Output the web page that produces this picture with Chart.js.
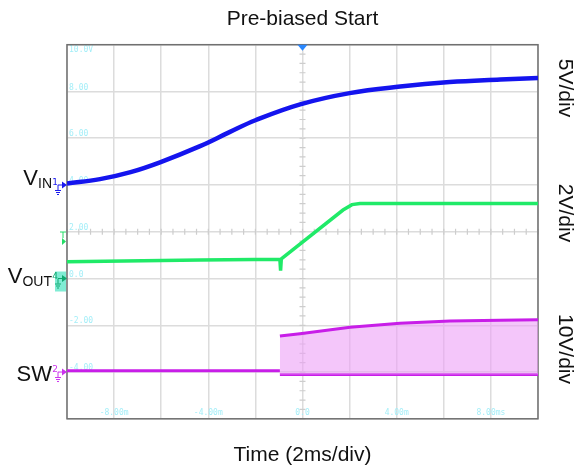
<!DOCTYPE html>
<html>
<head>
<meta charset="utf-8">
<script src="https://cdn.jsdelivr.net/npm/chart.js@4.4.1/dist/chart.umd.min.js"></script>
<style>
    html, body { margin: 0; padding: 0; background: #fff; }
</style>
</head>
<body>
<canvas id="scope" width="575" height="468"></canvas>
<script>
const FONT = "'Liberation Sans', Arial, sans-serif"

// screen grid: 2ms/div horizontally, 8 divisions vertically
const xTickValues = [-8, -4, 0, 4, 8]
const xTickLabels = ['-8.00m', '-4.00m', '0.0', '4.00m', '8.00ms']
const yTickValues = [10, 8, 6, 4, 2, 0, -2, -4]
const yTickLabels = ['10.0V', '8.00', '6.00', '4.00', '2.00', '0.0', '-2.00', '-4.00']

// VIN (ch1)
const vinTime = [-10, -8.6, -7.3, -6.05, -4.35, -3.1, -2.0, -0.1, 2.0, 4.15, 6.25, 8.4, 10]
const vinLevel = [4.06, 4.25, 4.55, 4.97, 5.66, 6.26, 6.77, 7.45, 7.93, 8.21, 8.40, 8.51, 8.58]

// VOUT (ch4)
const voutTime = [-10, -4.35, -0.96, -0.93, -0.90, 1.72, 2.10, 2.44, 10]
const voutLevel = [0.72, 0.79, 0.82, 0.34, 0.84, 2.93, 3.16, 3.21, 3.21]

// SW (ch2) before switching starts, then the high/low envelope
const swTime = [-10, -0.96]
const swLevel = [-3.95, -3.95]
const swHighTime = [-0.96, -0.11, 2.02, 4.14, 6.26, 8.39, 10]
const swHigh = [-2.46, -2.36, -2.08, -1.91, -1.82, -1.78, -1.76]
const swLowTime = [-0.96, 10]
const swLow = [-4.10, -4.10]

const pts = (xs, ys) => xs.map((x, i) => ({x: x, y: ys[i]}))

function trace(data, color, width, extra) {
    return Object.assign({
        data: data,
        borderColor: color,
        borderWidth: width,
        pointRadius: 0,
        tension: 0,
        fill: false,
    }, extra || {})
}

// little "n + ground + arrow" channel marker at the left of the screen
function groundMark(ctx, x, y, color, label) {
    ctx.save()
    ctx.fillStyle = color
    ctx.strokeStyle = color
    ctx.lineWidth = 1
    ctx.font = "9px 'DejaVu Sans'"
    ctx.textAlign = 'center'
    ctx.textBaseline = 'middle'
    ctx.fillText(label, x - 8, y - 2)
    ctx.beginPath()
    ctx.moveTo(x - 5, y); ctx.lineTo(x + 1, y)
    ctx.moveTo(x - 5, y); ctx.lineTo(x - 5, y + 5)
    ctx.moveTo(x - 8, y + 5.5); ctx.lineTo(x - 2, y + 5.5)
    ctx.moveTo(x - 7, y + 7.5); ctx.lineTo(x - 3, y + 7.5)
    ctx.moveTo(x - 6, y + 9.5); ctx.lineTo(x - 4, y + 9.5)
    ctx.stroke()
    ctx.beginPath()
    ctx.moveTo(x - 1, y - 3.5); ctx.lineTo(x + 4, y); ctx.lineTo(x - 1, y + 3.5)
    ctx.closePath()
    ctx.fill()
    ctx.restore()
}

const scopeDecor = {
    id: 'scopeDecor',
    beforeDatasetsDraw(chart) {
        const {ctx, chartArea: a, scales: {x, y}} = chart
        ctx.save()
        // minor ticks on the centre cross
        const cx = x.getPixelForValue(0)
        const cy = y.getPixelForValue(2)
        ctx.strokeStyle = '#cdcdcd'
        ctx.lineWidth = 1.2
        ctx.beginPath()
        for (let v = -6; v <= 10; v += 0.4) {
            const py = y.getPixelForValue(v)
            ctx.moveTo(cx - 3, py); ctx.lineTo(cx + 3, py)
        }
        for (let t = -10; t <= 10; t += 0.5) {
            const px = x.getPixelForValue(t)
            ctx.moveTo(px, cy - 3); ctx.lineTo(px, cy + 3)
        }
        ctx.stroke()

        // tick labels inside the screen
        ctx.fillStyle = '#a4eef8'
        ctx.font = "8px 'DejaVu Sans Mono'"
        ctx.textBaseline = 'middle'
        ctx.textAlign = 'left'
        yTickValues.forEach((v, i) => {
            const py = y.getPixelForValue(v)
            ctx.fillText(yTickLabels[i], a.left + 2, i === 0 ? py + 5 : py - 4)
        })
        ctx.textAlign = 'center'
        xTickValues.forEach((t, i) => {
            ctx.fillText(xTickLabels[i], x.getPixelForValue(t), a.bottom - 6)
        })

        // frame
        ctx.strokeStyle = '#707070'
        ctx.lineWidth = 1.5
        ctx.strokeRect(a.left, a.top, a.right - a.left, a.bottom - a.top)
        ctx.restore()
    },
    afterDraw(chart) {
        const {ctx, chartArea: a, scales: {x, y}} = chart
        ctx.save()

        // trigger position marker
        const cx = x.getPixelForValue(0)
        ctx.fillStyle = '#2a88ff'
        ctx.beginPath()
        ctx.moveTo(cx - 5, a.top); ctx.lineTo(cx + 5, a.top); ctx.lineTo(cx, a.top + 6)
        ctx.closePath()
        ctx.fill()

        // channel markers
        groundMark(ctx, a.left - 4, y.getPixelForValue(4), '#1a1aee', '1')
        ctx.fillStyle = '#80ecd4'
        ctx.fillRect(a.left - 12, y.getPixelForValue(0) - 7, 11, 20)
        groundMark(ctx, a.left - 4, y.getPixelForValue(0), '#10a870', '4')
        groundMark(ctx, a.left - 4, y.getPixelForValue(-4), '#cc33ee', '2')

        // trigger level
        ctx.fillStyle = '#22dd66'
        ctx.strokeStyle = '#22dd66'
        ctx.lineWidth = 1
        ctx.beginPath()
        ctx.moveTo(a.left - 7, 232); ctx.lineTo(a.left - 1, 232)
        ctx.moveTo(a.left - 4, 232); ctx.lineTo(a.left - 4, 238)
        ctx.stroke()
        ctx.beginPath()
        ctx.moveTo(a.left - 5, 238); ctx.lineTo(a.left - 1, 241.5); ctx.lineTo(a.left - 5, 245)
        ctx.closePath()
        ctx.fill()

        // channel names
        ctx.fillStyle = '#111'
        ctx.textBaseline = 'alphabetic'
        ctx.textAlign = 'left'
        const names = [['V', 'IN', 185], ['V', 'OUT', 283], ['SW', '', 380.5]]
        for (const [main, sub, base] of names) {
            ctx.font = '22px ' + FONT
            const w1 = ctx.measureText(main).width
            ctx.font = '14px ' + FONT
            const w2 = ctx.measureText(sub).width
            const x0 = 52 - w1 - w2
            ctx.font = '22px ' + FONT
            ctx.fillText(main, x0, base)
            ctx.font = '14px ' + FONT
            ctx.fillText(sub, x0 + w1, base + 3)
        }

        // volts per division, rotated
        ctx.font = '21px ' + FONT
        ctx.textAlign = 'center'
        ctx.textBaseline = 'middle'
        const scalesText = [['5V/div', 88], ['2V/div', 213], ['10V/div', 349]]
        for (const [txt, cyText] of scalesText) {
            ctx.save()
            ctx.translate(565, cyText)
            ctx.rotate(Math.PI / 2)
            ctx.fillText(txt, 0, 0)
            ctx.restore()
        }
        ctx.restore()
    }
}

const gridOpts = {
    color: '#dcdcdc',
    lineWidth: 1.5,
    drawTicks: false,
}

const scopeChart = new Chart(document.getElementById('scope'), {
    type: 'line',
    data: {
        datasets: [
            trace(pts(swHighTime, swHigh), '#c81ee8', 3, {fill: '+1', backgroundColor: 'rgba(236, 160, 246, 0.6)'}),
            trace(pts(swLowTime, swLow), '#c81ee8', 3),
            trace(pts(swTime, swLevel), '#c81ee8', 3),
            trace(pts(voutTime, voutLevel), '#20ea68', 3.5),
            trace(pts(vinTime, vinLevel), '#1414ee', 4.5, {tension: 0.4}),
        ]
    },
    options: {
        responsive: false,
        animation: false,
        devicePixelRatio: 1,
        layout: {
            padding: {left: 67, right: 37, top: 0, bottom: 0}
        },
        scales: {
            x: {
                type: 'linear',
                min: -10,
                max: 10,
                ticks: {stepSize: 2, display: false},
                grid: gridOpts,
                border: {display: false},
                title: {
                    display: true,
                    text: 'Time (2ms/div)',
                    color: '#111',
                    font: {family: FONT, size: 21},
                    padding: {top: 24, bottom: 0}
                }
            },
            y: {
                type: 'linear',
                min: -6,
                max: 10,
                ticks: {stepSize: 2, display: false},
                grid: gridOpts,
                border: {display: false},
                afterFit: s => { s.width = 0 }
            }
        },
        plugins: {
            legend: {display: false},
            tooltip: {enabled: false},
            title: {
                display: true,
                text: 'Pre-biased Start',
                color: '#111',
                font: {family: FONT, size: 21, weight: 'normal'},
                padding: {top: 7, bottom: 12.5}
            }
        }
    },
    plugins: [scopeDecor]
})
</script>
</body>
</html>
